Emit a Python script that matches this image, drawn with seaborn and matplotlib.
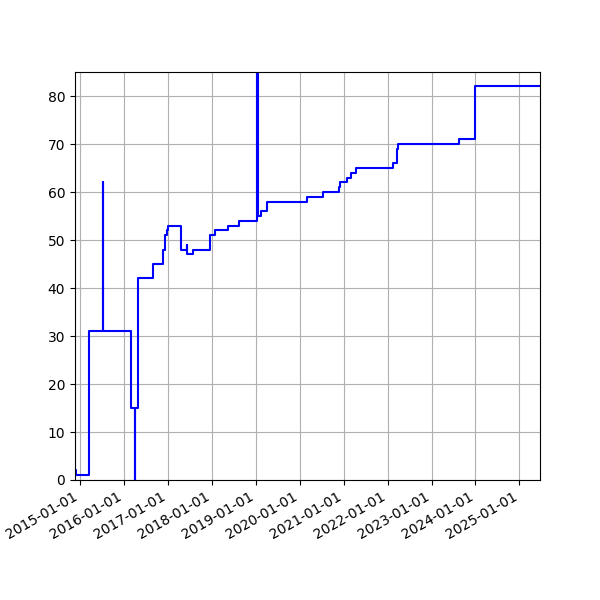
import matplotlib
matplotlib.use("Agg")
import matplotlib.pyplot as plt
import matplotlib.dates as mdates
import pandas as pd
import seaborn as sns

dates = [
    "2014-11-18", "2014-11-26", "2015-03-14", "2015-07-11", "2015-07-13",
    "2016-02-27", "2016-03-29", "2016-03-31", "2016-04-25", "2016-08-25",
    "2016-11-17", "2016-12-06", "2016-12-20", "2017-01-02", "2017-04-15",
    "2017-06-04", "2017-06-07", "2017-07-29", "2017-12-15", "2018-01-26",
    "2018-05-16", "2018-08-16", "2019-01-08", "2019-01-21", "2019-02-10",
    "2019-04-06", "2020-03-04", "2020-07-15", "2020-11-25", "2020-12-02",
    "2021-01-25", "2021-03-02", "2021-04-13", "2022-02-17", "2022-03-17",
    "2022-03-31", "2023-08-20", "2023-12-28", "2025-06-21",
]
values = [
    2, 1, 31, 62, 31,
    15, 0, 15, 42, 45,
    48, 51, 52, 53, 48,
    49, 47, 48, 51, 52,
    53, 54, 120, 55, 56,
    58, 59, 60, 61, 62,
    63, 64, 65, 66, 69,
    70, 71, 82, 82,
]

df = pd.DataFrame({"date": pd.to_datetime(dates), "value": values})

fig = plt.figure(figsize=(6, 6), dpi=100)
ax = fig.gca()
sns.lineplot(data=df, x="date", y="value", color="blue", estimator=None,
             drawstyle="steps-post", ax=ax)
ax.set_xlabel("")
ax.set_ylabel("")
ax.set_ylim(0, 85)
ax.set_xlim(df["date"].iloc[0], df["date"].iloc[-1])
ax.xaxis.set_major_locator(mdates.YearLocator())
ax.xaxis.set_major_formatter(mdates.DateFormatter("%Y-%m-%d"))
ax.grid(True)
fig.autofmt_xdate()
fig.savefig("out.png")
